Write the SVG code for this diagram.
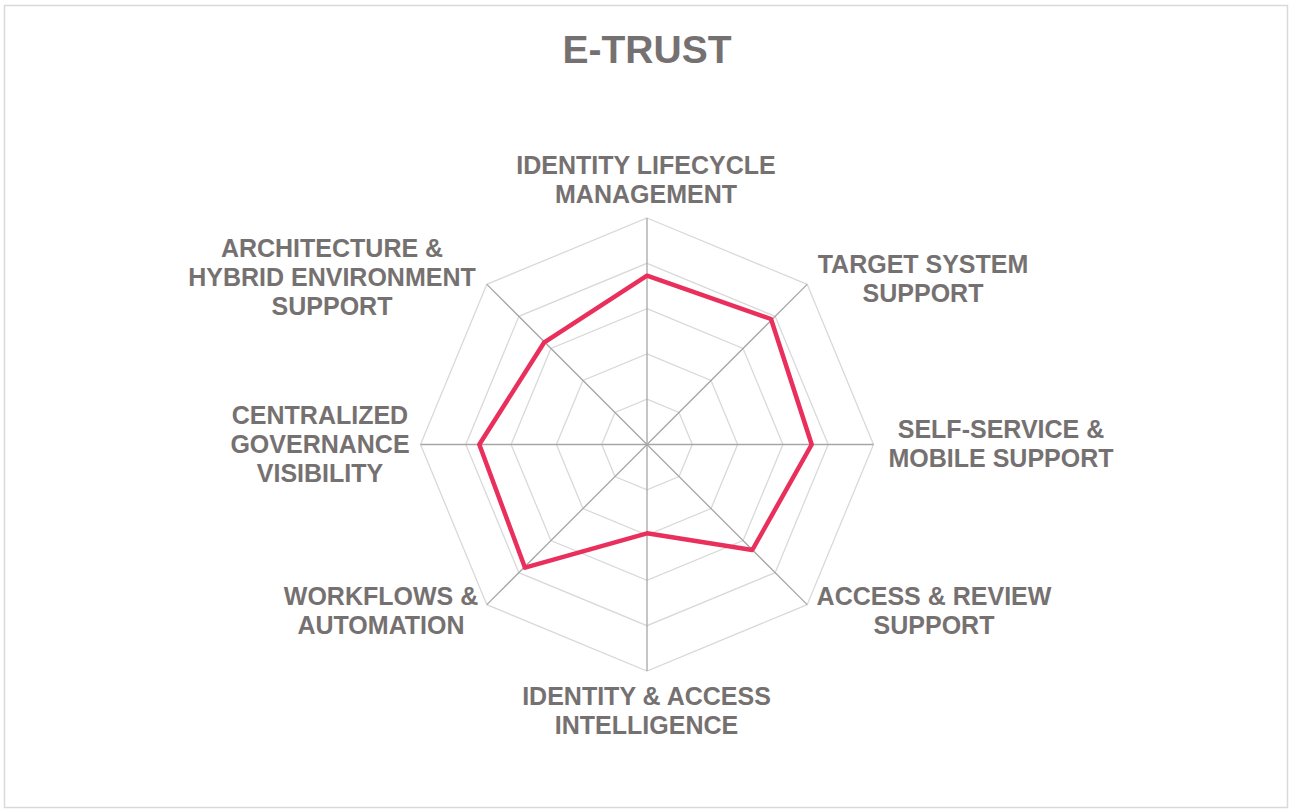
<svg xmlns="http://www.w3.org/2000/svg" width="1290" height="810" viewBox="0 0 1290 810">
<style>
.lbl{font-family:"Liberation Sans",Arial,sans-serif;font-weight:bold;font-size:25px;fill:#767171;text-anchor:middle}
.title{font-family:"Liberation Sans",Arial,sans-serif;font-weight:bold;font-size:39px;fill:#767171;text-anchor:middle}
.ring{fill:none;stroke:#d9d9d9;stroke-width:1.3}
.spoke{stroke:#a6a6a6;stroke-width:1.3}
.data{fill:none;stroke:#e9305c;stroke-width:4.5;stroke-linejoin:round}
</style>
<rect x="0" y="0" width="1290" height="810" fill="#ffffff"/>
<rect x="4.5" y="5.5" width="1283" height="802" fill="#ffffff" stroke="#d9d9d9" stroke-width="1.5"/>
<text class="title" x="647" y="63">E-TRUST</text>
<g id="grid">
<polygon class="ring" points="647,399.2 679.03,412.47 692.3,444.5 679.03,476.53 647,489.8 614.97,476.53 601.7,444.5 614.97,412.47"/>
<polygon class="ring" points="647,353.9 711.06,380.44 737.6,444.5 711.06,508.56 647,535.1 582.94,508.56 556.4,444.5 582.94,380.44"/>
<polygon class="ring" points="647,308.6 743.1,348.4 782.9,444.5 743.1,540.6 647,580.4 550.9,540.6 511.1,444.5 550.9,348.4"/>
<polygon class="ring" points="647,263.3 775.13,316.37 828.2,444.5 775.13,572.63 647,625.7 518.87,572.63 465.8,444.5 518.87,316.37"/>
<polygon class="ring" points="647,218 807.16,284.34 873.5,444.5 807.16,604.66 647,671 486.84,604.66 420.5,444.5 486.84,284.34"/>
</g>
<g id="connectors">
<line class="spoke" x1="647" y1="444.5" x2="647" y2="218"/>
<line class="spoke" x1="647" y1="444.5" x2="807.16" y2="284.34"/>
<line class="spoke" x1="647" y1="444.5" x2="873.5" y2="444.5"/>
<line class="spoke" x1="647" y1="444.5" x2="807.16" y2="604.66"/>
<line class="spoke" x1="647" y1="444.5" x2="647" y2="671"/>
<line class="spoke" x1="647" y1="444.5" x2="486.84" y2="604.66"/>
<line class="spoke" x1="647" y1="444.5" x2="420.5" y2="444.5"/>
<line class="spoke" x1="647" y1="444.5" x2="486.84" y2="284.34"/>
</g>
<g id="series">
<polygon class="data" points="647,275.7 771,319 811.7,444.5 752.3,550 647,533.3 525,567.7 479.3,444.5 544.3,342.3"/>
</g>
<g id="node-identity-lifecycle">
<text class="lbl" x="646" y="174">IDENTITY LIFECYCLE</text>
<text class="lbl" x="646" y="203">MANAGEMENT</text>
</g>
<g id="node-target-system">
<text class="lbl" x="923" y="273">TARGET SYSTEM</text>
<text class="lbl" x="923" y="302">SUPPORT</text>
</g>
<g id="node-self-service">
<text class="lbl" x="1001" y="438">SELF-SERVICE &amp;</text>
<text class="lbl" x="1001" y="467">MOBILE SUPPORT</text>
</g>
<g id="node-access-review">
<text class="lbl" x="934" y="605">ACCESS &amp; REVIEW</text>
<text class="lbl" x="934" y="634">SUPPORT</text>
</g>
<g id="node-identity-access-intelligence">
<text class="lbl" x="646.5" y="705">IDENTITY &amp; ACCESS</text>
<text class="lbl" x="646.5" y="734">INTELLIGENCE</text>
</g>
<g id="node-workflows">
<text class="lbl" x="381" y="605">WORKFLOWS &amp;</text>
<text class="lbl" x="381" y="634">AUTOMATION</text>
</g>
<g id="node-centralized">
<text class="lbl" x="320" y="424">CENTRALIZED</text>
<text class="lbl" x="320" y="453">GOVERNANCE</text>
<text class="lbl" x="320" y="482">VISIBILITY</text>
</g>
<g id="node-architecture">
<text class="lbl" x="332" y="257">ARCHITECTURE &amp;</text>
<text class="lbl" x="332" y="286">HYBRID ENVIRONMENT</text>
<text class="lbl" x="332" y="315">SUPPORT</text>
</g>
</svg>
